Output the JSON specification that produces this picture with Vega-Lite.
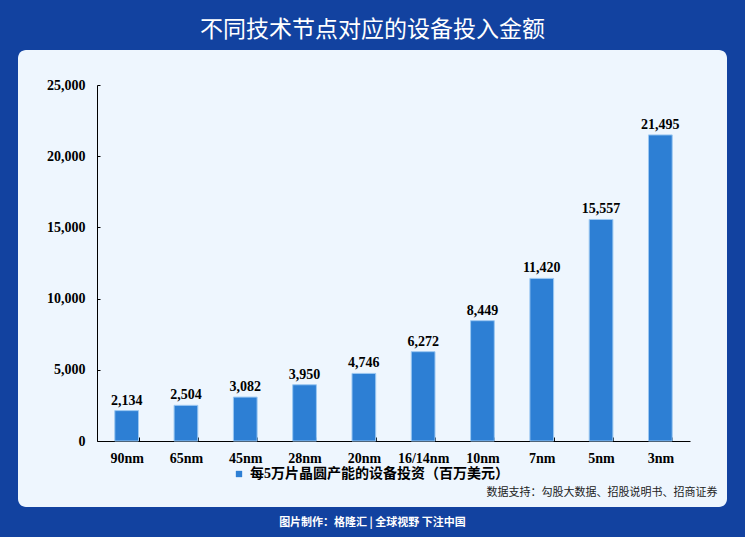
{
  "$schema": "https://vega.github.io/schema/vega-lite/v6.json",
  "width": 709,
  "height": 457,
  "autosize": {"type": "none"},
  "padding": {"left": 18, "top": 50, "right": 18, "bottom": 30},
  "background": "#1242a0",
  "title": {
    "text": "不同技术节点对应的设备投入金额",
    "font": "Noto Sans CJK SC",
    "fontSize": 23,
    "fontWeight": "normal",
    "color": "#ffffff",
    "anchor": "middle",
    "offset": 8
  },
  "config": {
    "view": {"fill": "#eef6fe", "stroke": null, "cornerRadius": 8}
  },
  "data": {
    "values": [
      {"node": "90nm", "value": 2134, "series": "每5万片晶圆产能的设备投资（百万美元）"},
      {"node": "65nm", "value": 2504, "series": "每5万片晶圆产能的设备投资（百万美元）"},
      {"node": "45nm", "value": 3082, "series": "每5万片晶圆产能的设备投资（百万美元）"},
      {"node": "28nm", "value": 3950, "series": "每5万片晶圆产能的设备投资（百万美元）"},
      {"node": "20nm", "value": 4746, "series": "每5万片晶圆产能的设备投资（百万美元）"},
      {"node": "16/14nm", "value": 6272, "series": "每5万片晶圆产能的设备投资（百万美元）"},
      {"node": "10nm", "value": 8449, "series": "每5万片晶圆产能的设备投资（百万美元）"},
      {"node": "7nm", "value": 11420, "series": "每5万片晶圆产能的设备投资（百万美元）"},
      {"node": "5nm", "value": 15557, "series": "每5万片晶圆产能的设备投资（百万美元）"},
      {"node": "3nm", "value": 21495, "series": "每5万片晶圆产能的设备投资（百万美元）"}
    ]
  },
  "encoding": {
    "x": {
      "field": "node",
      "type": "nominal",
      "sort": null,
      "scale": {"range": [79, 672], "paddingInner": 0.6, "paddingOuter": 0.3},
      "axis": {
        "title": "数据支持：勾股大数据、招股说明书、招商证券",
        "titleFont": "Noto Sans CJK SC",
        "titleFontSize": 11,
        "titleFontWeight": "normal",
        "titleColor": "#222222",
        "titleAlign": "right",
        "titleBaseline": "middle",
        "titleX": 699,
        "titleY": 51,
        "offset": -66,
        "grid": false,
        "domainColor": "#000000",
        "tickColor": "#000000",
        "tickSize": -4,
        "tickBand": "extent",
        "labelAngle": 0,
        "labelFont": "Liberation Serif",
        "labelFontWeight": "bold",
        "labelFontSize": 14,
        "labelColor": "#000000",
        "labelPadding": 14
      }
    },
    "y": {
      "field": "value",
      "type": "quantitative",
      "scale": {"domain": [0, 25000], "range": [391, 35], "nice": false},
      "axis": {
        "title": "图片制作：格隆汇 | 全球视野 下注中国",
        "titleAngle": 0,
        "titleX": 275,
        "titleY": 472,
        "titleAlign": "center",
        "titleBaseline": "middle",
        "titleFont": "Noto Sans CJK SC",
        "titleFontSize": 11,
        "titleFontWeight": "bold",
        "titleColor": "#ffffff",
        "offset": -79,
        "values": [0, 5000, 10000, 15000, 20000, 25000],
        "labelExpr": "format(datum.value, ',')",
        "grid": false,
        "domainColor": "#000000",
        "tickColor": "#000000",
        "tickSize": -3,
        "labelFont": "Liberation Serif",
        "labelFontWeight": "bold",
        "labelFontSize": 14,
        "labelColor": "#000000",
        "labelPadding": 15
      }
    }
  },
  "layer": [
    {
      "mark": {"type": "bar", "stroke": "#9cc8f2", "strokeWidth": 1},
      "encoding": {
        "color": {
          "field": "series",
          "type": "nominal",
          "scale": {"range": ["#2d7fd4"]},
          "legend": {
            "orient": "none",
            "legendX": 214,
            "legendY": 417,
            "title": null,
            "padding": 0,
            "symbolType": "square",
            "symbolSize": 40,
            "symbolStrokeWidth": 0,
            "labelFont": "Liberation Serif, Noto Sans CJK SC",
            "labelFontSize": 14,
            "labelFontWeight": "bold",
            "labelColor": "#000000",
            "labelLimit": 400
          }
        }
      }
    },
    {
      "mark": {
        "type": "text",
        "dy": -10,
        "font": "Liberation Serif",
        "fontWeight": "bold",
        "fontSize": 14,
        "color": "#000000"
      },
      "encoding": {
        "text": {"field": "value", "type": "quantitative", "format": ","}
      }
    }
  ]
}
